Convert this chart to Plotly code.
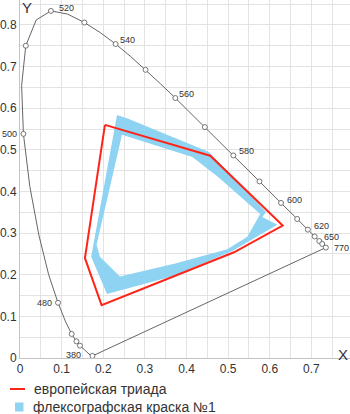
import plotly.graph_objects as go

# CIE 1931 spectral locus (wavelength, x, y)
wavelength = [380, 385, 390, 395, 400, 405, 410, 415, 420, 425, 430, 435, 440, 445, 450,
              455, 460, 465, 470, 475, 480, 485, 490, 495, 500, 505, 510, 515, 520, 525,
              530, 535, 540, 545, 550, 555, 560, 565, 570, 575, 580, 585, 590, 595, 600,
              605, 610, 615, 620, 625, 630, 635, 640, 645, 650, 655, 660, 670, 680, 690,
              700, 770]
locus_x = [0.1741, 0.1740, 0.1738, 0.1736, 0.1733, 0.1730, 0.1726, 0.1721, 0.1714, 0.1703,
           0.1689, 0.1669, 0.1644, 0.1611, 0.1566, 0.1510, 0.1440, 0.1355, 0.1241, 0.1096,
           0.0913, 0.0687, 0.0454, 0.0235, 0.0082, 0.0039, 0.0139, 0.0389, 0.0743, 0.1142,
           0.1547, 0.1929, 0.2296, 0.2658, 0.3016, 0.3373, 0.3731, 0.4087, 0.4441, 0.4788,
           0.5125, 0.5448, 0.5752, 0.6029, 0.6270, 0.6482, 0.6658, 0.6801, 0.6915, 0.7006,
           0.7079, 0.7140, 0.7190, 0.7230, 0.7260, 0.7283, 0.7300, 0.7320, 0.7334, 0.7344,
           0.7347, 0.7347]
locus_y = [0.0050, 0.0050, 0.0049, 0.0049, 0.0048, 0.0048, 0.0048, 0.0048, 0.0051, 0.0058,
           0.0069, 0.0086, 0.0109, 0.0138, 0.0177, 0.0227, 0.0297, 0.0399, 0.0578, 0.0868,
           0.1327, 0.2007, 0.2950, 0.4127, 0.5384, 0.6548, 0.7502, 0.8120, 0.8338, 0.8262,
           0.8059, 0.7816, 0.7543, 0.7243, 0.6923, 0.6589, 0.6245, 0.5896, 0.5547, 0.5202,
           0.4866, 0.4544, 0.4242, 0.3965, 0.3725, 0.3514, 0.3340, 0.3197, 0.3083, 0.2993,
           0.2920, 0.2859, 0.2809, 0.2770, 0.2740, 0.2717, 0.2700, 0.2680, 0.2666, 0.2656,
           0.2653, 0.2653]

marked_wl = [380, 460, 465, 470, 480, 500, 510, 520, 530, 540, 550, 560, 570, 580, 590,
             600, 610, 620, 630, 640, 650, 770]
labeled_wl = [380, 480, 500, 520, 540, 560, 580, 600, 620, 650, 770]

# European triad (red outline)
triad_x = [0.204, 0.457, 0.631, 0.514, 0.196, 0.156]
triad_y = [0.560, 0.486, 0.318, 0.254, 0.127, 0.240]

# Flexographic ink No.1 (blue band: outer and inner contour)
flexo_outer_x = [0.233, 0.260, 0.454, 0.591, 0.582, 0.618, 0.510, 0.373, 0.209, 0.171]
flexo_outer_y = [0.584, 0.575, 0.495, 0.351, 0.339, 0.320, 0.257, 0.198, 0.154, 0.243]
flexo_inner_x = [0.245, 0.414, 0.476, 0.577, 0.546, 0.498, 0.373, 0.240, 0.192, 0.184]
flexo_inner_y = [0.536, 0.483, 0.435, 0.346, 0.291, 0.261, 0.227, 0.196, 0.243, 0.272]

series_names = ["европейская триада", "флексографская краска №1"]
axis_titles = ["X", "Y"]

# ---- styling / layout constants ----
W, H = 350, 414
ML, MR, MT, MB = 20, 0, 0, 56
PW, PH = W - ML - MR, H - MT - MB
X_RANGE = [0, 0.7927]
Y_RANGE = [0, 0.86]
GRID = "#e3e3e3"
TXT = "#333333"
FONT = "Liberation Sans, Arial, Helvetica, sans-serif"
RED = "#ff2418"
BLUE = "#8ed3f1"
LOCUS = "#555555"

label_offsets = {  # (xanchor, xshift, yshift)
    380: ("right", -9, 1), 480: ("right", -4, 0), 500: ("right", -4, 0),
    520: ("left", 6, 3), 540: ("left", 2, 4), 560: ("left", 2, 4),
    580: ("left", 4, 4), 600: ("left", 4, 3), 620: ("left", 4, 4),
    650: ("left", 0, 7), 770: ("left", 6, 0),
}


def px_to_paper(px, py):
    return (px - ML) / PW, (H - MB - py) / PH


idx = {w: i for i, w in enumerate(wavelength)}

fig = go.Figure()

# spectral locus + purple line
fig.add_trace(go.Scatter(
    x=locus_x + [locus_x[0]], y=locus_y + [locus_y[0]], mode="lines",
    line=dict(color=LOCUS, width=0.9), hoverinfo="skip"))

# blue band with hole
bx = flexo_outer_x + [flexo_outer_x[0], None] + flexo_inner_x[::-1] + [flexo_inner_x[-1]]
by = flexo_outer_y + [flexo_outer_y[0], None] + flexo_inner_y[::-1] + [flexo_inner_y[-1]]
fig.add_trace(go.Scatter(
    x=bx, y=by, mode="lines", fill="toself", fillcolor=BLUE,
    line=dict(width=0, color=BLUE), name=series_names[1]))

# red triad
fig.add_trace(go.Scatter(
    x=triad_x + [triad_x[0]], y=triad_y + [triad_y[0]], mode="lines",
    line=dict(color=RED, width=2), name=series_names[0]))

# wavelength markers
fig.add_trace(go.Scatter(
    x=[locus_x[idx[w]] for w in marked_wl], y=[locus_y[idx[w]] for w in marked_wl],
    mode="markers",
    marker=dict(symbol="circle", size=5, color="white", line=dict(color=LOCUS, width=0.8)),
    hoverinfo="skip"))

annotations = []
for w in labeled_wl:
    anchor, xs, ys = label_offsets[w]
    annotations.append(dict(
        x=locus_x[idx[w]], y=locus_y[idx[w]], xref="x", yref="y", text=str(w),
        showarrow=False, xanchor=anchor, yanchor="middle", xshift=xs, yshift=ys,
        font=dict(size=9, color=TXT, family=FONT)))

# axis titles
ax_, ay_ = px_to_paper(342.5, 354)
annotations.append(dict(x=ax_, y=ay_, xref="paper", yref="paper", text=axis_titles[0],
                        showarrow=False, xanchor="center", yanchor="middle",
                        font=dict(size=15, color=TXT, family=FONT)))
ax_, ay_ = px_to_paper(27, 8)
annotations.append(dict(x=ax_, y=ay_, xref="paper", yref="paper", text=axis_titles[1],
                        showarrow=False, xanchor="center", yanchor="middle",
                        font=dict(size=15, color=TXT, family=FONT)))

# manual legend
shapes = []
x0, y0 = px_to_paper(10, 389)
x1, _ = px_to_paper(25, 389)
shapes.append(dict(type="line", xref="paper", yref="paper", x0=x0, x1=x1, y0=y0, y1=y0,
                   line=dict(color=RED, width=2)))
x0, y0 = px_to_paper(15, 402.5)
x1, y1 = px_to_paper(23.5, 411.5)
shapes.append(dict(type="rect", xref="paper", yref="paper", x0=x0, x1=x1, y0=y0, y1=y1,
                   fillcolor=BLUE, line=dict(width=0)))
tx, ty = px_to_paper(32, 388.5)
annotations.append(dict(x=tx, y=ty, xref="paper", yref="paper", text=series_names[0],
                        showarrow=False, xanchor="left", yanchor="middle",
                        font=dict(size=14, color=TXT, family=FONT)))
tx, ty = px_to_paper(30.5, 407.5)
annotations.append(dict(x=tx, y=ty, xref="paper", yref="paper", text=series_names[1],
                        showarrow=False, xanchor="left", yanchor="middle",
                        font=dict(size=14, color=TXT, family=FONT)))

fig.update_layout(
    width=W, height=H, margin=dict(l=ML, r=MR, t=MT, b=MB, pad=0),
    plot_bgcolor="white", paper_bgcolor="white", showlegend=False,
    font=dict(family=FONT, color=TXT, size=12),
    annotations=annotations, shapes=shapes, hovermode=False,
)
common = dict(showgrid=True, gridcolor=GRID, gridwidth=1, zeroline=False,
              showline=True, linecolor="#c4c4c4", linewidth=1, ticks="",
              tickmode="linear", tick0=0, dtick=0.1, automargin=False,
              tickfont=dict(size=12, color=TXT, family=FONT),
              minor=dict(dtick=0.05, tick0=0, showgrid=True, gridcolor=GRID, gridwidth=1))
fig.update_xaxes(range=X_RANGE, **common)
fig.update_yaxes(range=Y_RANGE, **common)

fig.write_html("out.html")
